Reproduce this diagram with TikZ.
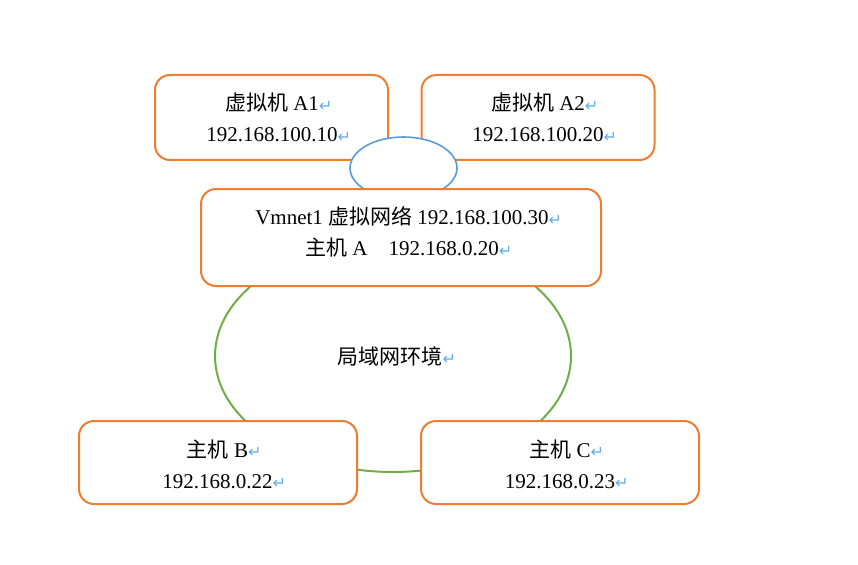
\documentclass[tikz,border=0pt]{standalone}
\usepackage{fontspec}
\setmainfont{Liberation Serif}
\newfontfamily\cjk{Noto Sans CJK SC}
\newfontfamily\dvu{DejaVu Sans}
\usetikzlibrary{shapes.geometric}
\definecolor{boxorange}{HTML}{ED7D31}
\definecolor{lanblue}{HTML}{5B9BD5}
\definecolor{langreen}{HTML}{70AD47}
\definecolor{retblue}{HTML}{62ADEB}
\newcommand\retmark{\rlap{\dvu\color{retblue}\fontsize{16}{16}\selectfont\raisebox{-0.5pt}{↵}}}
\tikzset{
  hostbox/.style={draw=boxorange, line width=2pt, rounded corners=15pt, fill=white, inner sep=0pt},
  lbl/.style={font=\fontsize{21}{31}\selectfont, align=center, inner sep=0pt},
}
\begin{document}
\begin{tikzpicture}[x=1pt,y=-1pt]
\useasboundingbox (0,0) rectangle (858,564);
% LAN ellipse
\node[draw=langreen, line width=2pt, ellipse, minimum width=356pt, minimum height=232pt, inner sep=0pt] (lan) at (393,356) {};
% host boxes
\node[hostbox, minimum width=278pt, minimum height=83pt] (b) at (218,462.5) {};
\node[hostbox, minimum width=278pt, minimum height=83pt] (c) at (560,462.5) {};
\node[hostbox, minimum width=233pt, minimum height=85pt] (a1) at (271.5,117.5) {};
\node[hostbox, minimum width=233pt, minimum height=85pt] (a2) at (538,117.5) {};
% virtual switch ellipse
\node[draw=lanblue, line width=1.6pt, ellipse, fill=white, minimum width=107pt, minimum height=62pt, inner sep=0pt] (sw) at (403.5,168) {};
% host A box
\node[hostbox, minimum width=400pt, minimum height=97pt] (vm) at (401,237.5) {};
% texts
\node[lbl] (ta1) at (272,117.5) {{\cjk 虚拟机} A1\retmark\\192.168.100.10\retmark};
\node[lbl] (ta2) at (538,117.5) {{\cjk 虚拟机} A2\retmark\\192.168.100.20\retmark};
\node[lbl] (tvm) at (402,232) {Vmnet1 {\cjk 虚拟网络} 192.168.100.30\retmark\\{\cjk 主机} A\quad 192.168.0.20\retmark};
\node[lbl] (tlan) at (390,356) {{\cjk 局域网环境}\retmark};
\node[lbl] (tb) at (217.5,464) {{\cjk 主机} B\retmark\\192.168.0.22\retmark};
\node[lbl] (tc) at (560,464) {{\cjk 主机} C\retmark\\192.168.0.23\retmark};
\end{tikzpicture}
\end{document}
